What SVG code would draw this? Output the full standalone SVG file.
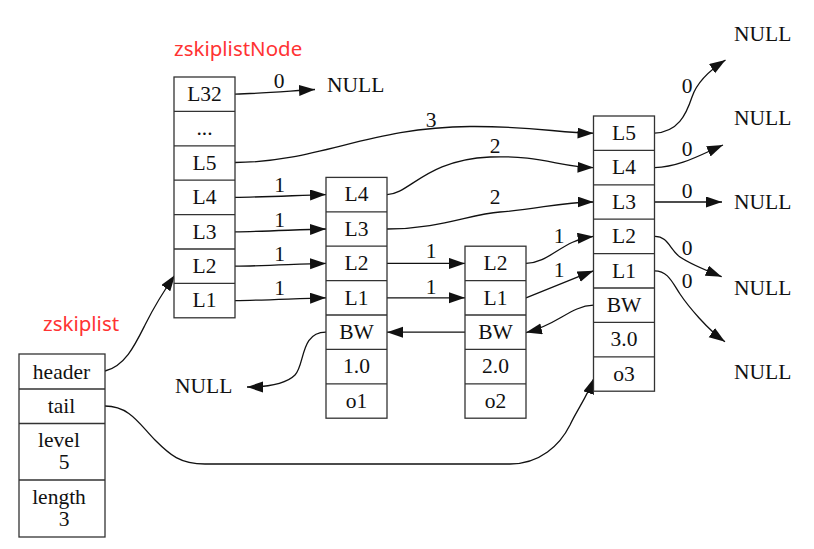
<svg xmlns="http://www.w3.org/2000/svg" width="814" height="549" viewBox="0 0 814 549">
<defs>
<style>
.box{fill:#fff;stroke:#333;stroke-width:1.3}
.sep{stroke:#333;stroke-width:1.3}
.t{font-family:"Liberation Serif","Times New Roman",serif;font-size:21.5px;fill:#111;text-anchor:middle}
.n{font-family:"Liberation Serif","Times New Roman",serif;font-size:21.5px;fill:#111}
.lbl{font-family:"Noto Sans","Liberation Sans",sans-serif;font-size:20.5px;fill:#f33}
.e{fill:none;stroke:#111;stroke-width:1.3;marker-end:url(#arr)}
</style>
<marker id="arr" markerUnits="userSpaceOnUse" markerWidth="17" markerHeight="12" refX="16" refY="5.5" orient="auto">
<path d="M0,0 L16,5.5 L0,11 z" fill="#111"/>
</marker>
</defs>
<rect width="814" height="549" fill="#fff"/>

<text class="lbl" x="174" y="56">zskiplistNode</text>
<text class="lbl" x="43" y="331">zskiplist</text>

<g id="connectors">
<path class="e" d="M235,94.2 C260,93.5 290,91 315,89.5"/>
<text class="t" x="279" y="88">0</text>
<path class="e" d="M235,162.5 C320,162 370,127 470,126.5 C530,126 560,133 593.5,133.2"/>
<text class="t" x="431" y="127">3</text>
<path class="e" d="M235,197.4 C265,197 295,195.5 326,194.6"/>
<text class="t" x="279.5" y="192">1</text>
<path class="e" d="M235,231.8 C265,231.4 295,229.8 326,229"/>
<text class="t" x="279.5" y="226.5">1</text>
<path class="e" d="M235,266.2 C265,265.8 295,264.2 326,263.4"/>
<text class="t" x="279.5" y="261">1</text>
<path class="e" d="M235,300.6 C265,300.2 295,298.6 326,297.8"/>
<text class="t" x="279.5" y="295">1</text>
<path class="e" d="M387,194.6 C410,194 425,160 490,157 C540,155 560,167 593.5,167.6"/>
<text class="t" x="495" y="153">2</text>
<path class="e" d="M387,229 C440,229 470,214 500,212 C540,209 560,202 593.5,202"/>
<text class="t" x="495" y="204">2</text>
<path class="e" d="M387,263.4 L465,263.4"/>
<text class="t" x="431" y="258">1</text>
<path class="e" d="M387,297.8 L465,297.8"/>
<text class="t" x="431" y="294">1</text>
<path class="e" d="M526,263.4 C550,263 562,240 593.5,236.4"/>
<text class="t" x="559" y="243">1</text>
<path class="e" d="M526,297.8 C545,290 570,280 593.5,270.8"/>
<text class="t" x="559" y="277">1</text>
<path class="e" d="M593.5,305.2 C570,306 558,325 526,332.6"/>
<path class="e" d="M465,332.2 L387,332.2"/>
<path class="e" d="M326,332.2 C300,332 305,365 295,375 C285,385 265,387 247,387"/>
<path class="e" d="M654.5,133.2 C678,132 686,115 692,97 C697,82 710,70 725.5,60"/>
<text class="t" x="687" y="93">0</text>
<path class="e" d="M654.5,167.6 C680,167 700,155 723,145"/>
<text class="t" x="687" y="156">0</text>
<path class="e" d="M654.5,202 L722,202"/>
<text class="t" x="687" y="198">0</text>
<path class="e" d="M654.5,236.4 C668,236 670,250 680,257 C690,264 705,270 721.7,276.7"/>
<text class="t" x="687" y="255">0</text>
<path class="e" d="M654.5,270.8 C668,271 672,282 680,294 C688,306 708,330 725,341.7"/>
<text class="t" x="687" y="288">0</text>
<path class="e" d="M105,371 C125,366 135,345 145,325 C155,305 163,292 175,275"/>
<path class="e" d="M105,406 C130,406 140,425 155,440 C170,455 180,464 205,464 L510,464 C540,464 560,445 570,425 C577,410 588,395 594,378"/>
</g>

<g id="node-header">
<rect class="box" x="174" y="77" width="61" height="240.8"/>
<path class="sep" d="M174,111.4H235M174,145.8H235M174,180.2H235M174,214.6H235M174,249H235M174,283.4H235"/>
<text class="t" x="204.5" y="101">L32</text>
<text class="t" x="204.5" y="135.4">...</text>
<text class="t" x="204.5" y="169.8">L5</text>
<text class="t" x="204.5" y="204.2">L4</text>
<text class="t" x="204.5" y="238.6">L3</text>
<text class="t" x="204.5" y="273">L2</text>
<text class="t" x="204.5" y="307.4">L1</text>
</g>

<g id="node-o1">
<rect class="box" x="326" y="177.4" width="61" height="240.8"/>
<path class="sep" d="M326,211.8H387M326,246.2H387M326,280.6H387M326,315H387M326,349.4H387M326,383.8H387"/>
<text class="t" x="356.5" y="201.4">L4</text>
<text class="t" x="356.5" y="235.8">L3</text>
<text class="t" x="356.5" y="270.2">L2</text>
<text class="t" x="356.5" y="304.6">L1</text>
<text class="t" x="356.5" y="339">BW</text>
<text class="t" x="356.5" y="373.4">1.0</text>
<text class="t" x="356.5" y="407.8">o1</text>
</g>

<g id="node-o2">
<rect class="box" x="465" y="246.2" width="61" height="172"/>
<path class="sep" d="M465,280.6H526M465,315H526M465,349.4H526M465,383.8H526"/>
<text class="t" x="495.5" y="270.2">L2</text>
<text class="t" x="495.5" y="304.6">L1</text>
<text class="t" x="495.5" y="339">BW</text>
<text class="t" x="495.5" y="373.4">2.0</text>
<text class="t" x="495.5" y="407.8">o2</text>
</g>

<g id="node-o3">
<rect class="box" x="593.5" y="116" width="61" height="275.2"/>
<path class="sep" d="M593.5,150.4H654.5M593.5,184.8H654.5M593.5,219.2H654.5M593.5,253.6H654.5M593.5,288H654.5M593.5,322.4H654.5M593.5,356.8H654.5"/>
<text class="t" x="624" y="140">L5</text>
<text class="t" x="624" y="174.4">L4</text>
<text class="t" x="624" y="208.8">L3</text>
<text class="t" x="624" y="243.2">L2</text>
<text class="t" x="624" y="277.6">L1</text>
<text class="t" x="624" y="312">BW</text>
<text class="t" x="624" y="346.4">3.0</text>
<text class="t" x="624" y="380.8">o3</text>
</g>

<g id="node-zskiplist">
<rect class="box" x="19" y="354" width="86" height="183"/>
<path class="sep" d="M19,389H105M19,423.5H105M19,480H105"/>
<text class="t" x="61.5" y="378.5">header</text>
<text class="t" x="61.5" y="413.3">tail</text>
<text class="t" x="59" y="447">level</text>
<text class="t" x="64" y="469">5</text>
<text class="t" x="59" y="503.5">length</text>
<text class="t" x="64" y="525.5">3</text>
</g>

<g id="null-l32"><text class="n" x="327" y="92">NULL</text></g>
<g id="null-bw"><text class="n" x="175" y="393">NULL</text></g>
<g id="null-1"><text class="n" x="734" y="41">NULL</text></g>
<g id="null-2"><text class="n" x="734" y="125">NULL</text></g>
<g id="null-3"><text class="n" x="734" y="209">NULL</text></g>
<g id="null-4"><text class="n" x="734" y="295">NULL</text></g>
<g id="null-5"><text class="n" x="734" y="379">NULL</text></g>
</svg>
